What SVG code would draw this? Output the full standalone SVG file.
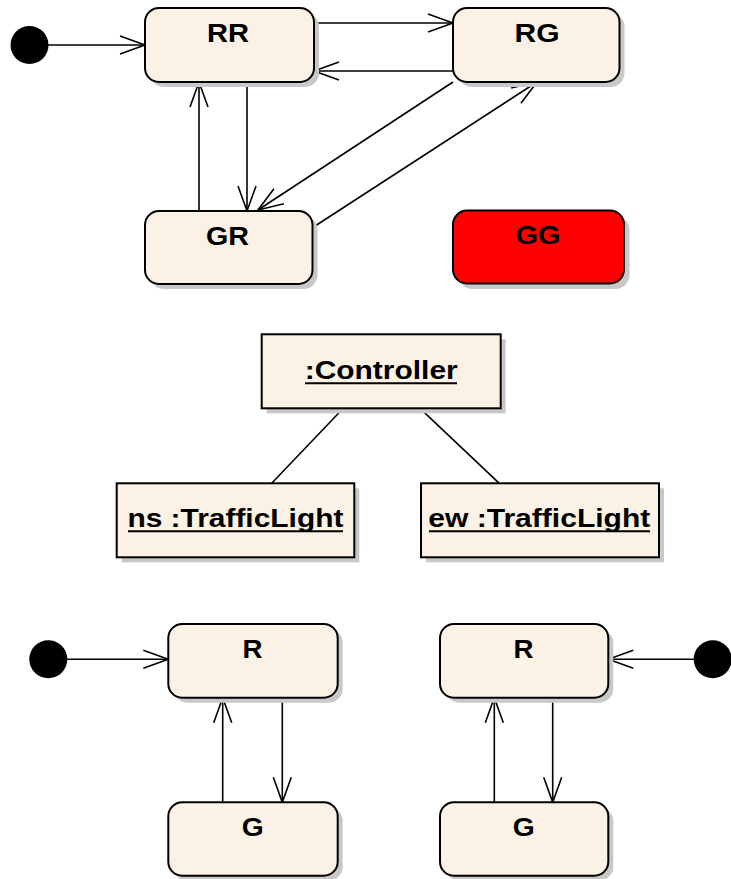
<svg xmlns="http://www.w3.org/2000/svg" width="731" height="879" viewBox="0 0 731 879">
<style>
.sh{fill:#c8c8c8}
.st{fill:#fbf1e4;stroke:#000;stroke-width:2}
.gg{fill:#ff0000;stroke:#000;stroke-width:2}
.t{font-family:"Liberation Sans",Arial,sans-serif;font-weight:bold;font-size:26px;fill:#000;text-anchor:middle}
.ul{stroke:#000;stroke-width:2}
.c{stroke:#000;stroke-width:1.6;fill:none}
.a{stroke:#000;stroke-width:1.6;fill:none;marker-end:url(#arr)}
.init{fill:#000}
</style>
<defs>
<marker id="arr" markerUnits="userSpaceOnUse" viewBox="-27 -11 29 22" refX="0" refY="0" markerWidth="29" markerHeight="22" orient="auto" overflow="visible">
<path d="M-25,-9 L0,0 L-25,9" fill="none" stroke="#000" stroke-width="1.6"/>
</marker>
</defs>
<rect width="731" height="879" fill="#fff"/>

<g id="connectors">
<line class="a" x1="48" y1="45" x2="145" y2="45"/>
<line class="a" x1="314" y1="23" x2="453" y2="23"/>
<line class="a" x1="453" y1="71" x2="314" y2="71"/>
<line class="a" x1="247" y1="82" x2="247" y2="211"/>
<line class="a" x1="199" y1="211" x2="199" y2="82"/>
<line class="a" x1="453" y1="82" x2="258" y2="210"/>
<line class="a" x1="312" y1="228" x2="537" y2="82"/>
<line class="c" x1="343.3" y1="408.3" x2="271.7" y2="483.3"/>
<line class="c" x1="420" y1="408.3" x2="499.3" y2="483.3"/>
<line class="a" x1="67" y1="659.3" x2="168.3" y2="659.3"/>
<line class="a" x1="222.7" y1="802.3" x2="222.7" y2="697.7"/>
<line class="a" x1="282.3" y1="697.7" x2="282.3" y2="802.3"/>
<line class="a" x1="694" y1="659.3" x2="608.3" y2="659.3"/>
<line class="a" x1="494.3" y1="802.3" x2="494.3" y2="697.7"/>
<line class="a" x1="552.7" y1="697.7" x2="552.7" y2="802.3"/>
</g>

<g id="init1"><circle class="init" cx="29.5" cy="45" r="19"/></g>
<g id="init2"><circle class="init" cx="48.3" cy="659.3" r="19"/></g>
<g id="init3"><circle class="init" cx="712.7" cy="659.3" r="19"/></g>

<g id="RR">
<rect class="sh" x="150" y="13" width="169" height="74" rx="14"/>
<rect class="st" x="145" y="8" width="169" height="74" rx="14"/>
<text class="t" x="228" y="42" textLength="42" lengthAdjust="spacingAndGlyphs">RR</text>
</g>
<g id="RG">
<rect class="sh" x="458" y="13" width="166.5" height="74" rx="14"/>
<rect class="st" x="453" y="8" width="166.5" height="74" rx="14"/>
<text class="t" x="537" y="42" textLength="45" lengthAdjust="spacingAndGlyphs">RG</text>
</g>
<g id="GR">
<rect class="sh" x="150" y="216" width="167.5" height="73" rx="14"/>
<rect class="st" x="145" y="211" width="167.5" height="73" rx="14"/>
<text class="t" x="227.5" y="244.5" textLength="43" lengthAdjust="spacingAndGlyphs">GR</text>
</g>
<g id="GG">
<rect class="sh" x="458.5" y="216" width="171" height="73" rx="14"/>
<rect class="gg" x="453" y="210.5" width="171" height="73" rx="14"/>
<text class="t" x="538" y="243.5" textLength="45" lengthAdjust="spacingAndGlyphs">GG</text>
</g>

<g id="controller">
<rect class="sh" x="266.7" y="339.3" width="239" height="74"/>
<rect class="st" x="261.7" y="334.3" width="239" height="74"/>
<text class="t" x="381.2" y="378.5" textLength="153" lengthAdjust="spacingAndGlyphs">:Controller</text>
<line class="ul" x1="305" y1="383.3" x2="457" y2="383.3"/>
</g>
<g id="ns">
<rect class="sh" x="121.7" y="488.3" width="237.6" height="74"/>
<rect class="st" x="116.7" y="483.3" width="237.6" height="74"/>
<text class="t" x="235.4" y="527.3" textLength="216" lengthAdjust="spacingAndGlyphs">ns :TrafficLight</text>
<line class="ul" x1="128" y1="531.3" x2="343" y2="531.3"/>
</g>
<g id="ew">
<rect class="sh" x="426" y="488.3" width="238" height="74"/>
<rect class="st" x="421" y="483.3" width="238" height="74"/>
<text class="t" x="539.3" y="527.3" textLength="222" lengthAdjust="spacingAndGlyphs">ew :TrafficLight</text>
<line class="ul" x1="429" y1="531.3" x2="650" y2="531.3"/>
</g>

<g id="R1">
<rect class="sh" x="173.3" y="629" width="169.4" height="73.7" rx="14"/>
<rect class="st" x="168.3" y="624" width="169.4" height="73.7" rx="14"/>
<text class="t" x="252.5" y="657.7" textLength="20" lengthAdjust="spacingAndGlyphs">R</text>
</g>
<g id="G1">
<rect class="sh" x="173.3" y="807.3" width="169.4" height="73.4" rx="14"/>
<rect class="st" x="168.3" y="802.3" width="169.4" height="73.4" rx="14"/>
<text class="t" x="252.8" y="835.7" textLength="22" lengthAdjust="spacingAndGlyphs">G</text>
</g>
<g id="R2">
<rect class="sh" x="445" y="629" width="168.3" height="73.7" rx="14"/>
<rect class="st" x="440" y="624" width="168.3" height="73.7" rx="14"/>
<text class="t" x="523.6" y="657.7" textLength="20" lengthAdjust="spacingAndGlyphs">R</text>
</g>
<g id="G2">
<rect class="sh" x="445" y="807.3" width="168.3" height="73.4" rx="14"/>
<rect class="st" x="440" y="802.3" width="168.3" height="73.4" rx="14"/>
<text class="t" x="523.8" y="835.7" textLength="22" lengthAdjust="spacingAndGlyphs">G</text>
</g>
</svg>
